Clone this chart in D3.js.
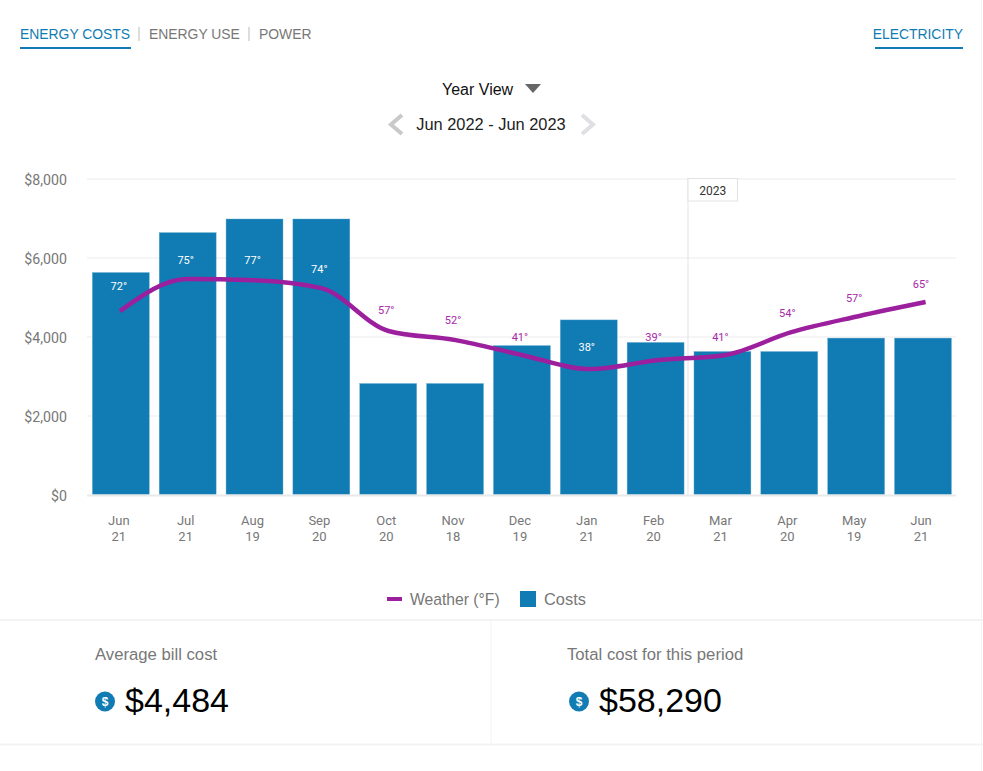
<!DOCTYPE html>
<html>
<head>
<meta charset="utf-8">
<script src="https://cdnjs.cloudflare.com/ajax/libs/d3/7.8.5/d3.min.js"></script>
<style>
html,body{margin:0;padding:0;background:#fff;overflow:hidden}
svg{display:block}
text{font-family:"Liberation Sans",Arial,sans-serif}
.chart text{font-family:Roboto,sans-serif}
</style>
</head>
<body>
<div id="root"></div>
<script>
const months = ["Jun","Jul","Aug","Sep","Oct","Nov","Dec","Jan","Feb","Mar","Apr","May","Jun"];
const days = ["21","21","19","20","20","18","19","21","20","21","20","19","21"];
const costs = [5620,6630,6975,6975,2810,2810,3770,4420,3850,3620,3620,3960,3960];
const temps = [72,75,77,74,57,52,41,38,39,41,54,57,65];
const weatherCurve = [63.4,77.5,77,73.5,54.7,50.7,44.1,38,41.9,44.1,54.2,61.2,67.4];
const weatherLabelLevels = [65.6,77,77,73.1,55.1,50.7,43.3,38.9,43.3,43.3,53.8,60.4,66.5];
const yTicks = [0,2000,4000,6000,8000];
const tabs = ["ENERGY COSTS","ENERGY USE","POWER"];
const summaryLabels = ["Average bill cost","Total cost for this period"];
const summaryValues = ["$4,484","$58,290"];
const legendLabels = ["Weather (°F)","Costs"];

const BLUE="#117cb3", PURPLE="#9c1f9e", GREY="#777", W=983, H=771;
const svg=d3.select("#root").append("svg").attr("width",W).attr("height",H);

// header
const tabX=[20,149,259];
svg.selectAll(".tab").data(tabs).join("text").attr("class","tab")
  .attr("x",(d,i)=>tabX[i]).attr("y",39).attr("font-size",13.9)
  .attr("fill",(d,i)=>i===0?BLUE:GREY).text(d=>d);
[139,249].forEach(x=>svg.append("line").attr("x1",x).attr("x2",x).attr("y1",27).attr("y2",41).attr("stroke","#bbb"));
svg.append("rect").attr("x",20).attr("y",47).attr("width",111).attr("height",2).attr("fill",BLUE);
svg.append("text").attr("x",963).attr("y",39).attr("text-anchor","end").attr("font-size",13.9).attr("fill",BLUE).text("ELECTRICITY");
svg.append("rect").attr("x",875).attr("y",47).attr("width",88).attr("height",2).attr("fill",BLUE);
svg.append("text").attr("x",442).attr("y",95).attr("font-size",16).attr("fill","#111").text("Year View");
svg.append("path").attr("d","M525,84L541,84L533,93Z").attr("fill","#666");
svg.append("text").attr("x",491).attr("y",130).attr("text-anchor","middle").attr("font-size",16.4).attr("fill","#222").text("Jun 2022 - Jun 2023");
svg.append("path").attr("d","M402,115L391,124.5L402,134").attr("fill","none").attr("stroke","#c9c9c9").attr("stroke-width",4);
svg.append("path").attr("d","M582,115L593,124.5L582,134").attr("fill","none").attr("stroke","#e0dfe3").attr("stroke-width",4);

// chart
const g=svg.append("g").attr("class","chart");
const idx=d3.range(months.length);
const x=d3.scaleBand().domain(idx).range([87.4,956.4]).paddingInner(0.148).paddingOuter(0.074);
const y=d3.scaleLinear().domain([0,8000]).range([494.5,178.5]);
const y2=d3.scaleLinear().domain([-17,121.6]).range([494.5,178.5]);
const xLine=d3.scalePoint().domain(idx).range([120,925.6]);
const labelX=i=>x(i)+x.bandwidth()/2-2;

const yAxis=d3.axisLeft(y).tickValues(yTicks).tickFormat(d=>"$"+d3.format(",")(d)).tickSize(0).tickPadding(0);
const ya=g.append("g").attr("transform","translate(67,1)").call(yAxis);
ya.select(".domain").remove();
ya.selectAll("text").attr("font-size",14.2).attr("fill",GREY).attr("font-family","Roboto,sans-serif");
const grid=d3.axisLeft(y).tickValues(yTicks.slice(1)).tickSize(-869).tickFormat("");
const ga=g.append("g").attr("transform","translate(87,0)").call(grid);
ga.select(".domain").remove();
ga.selectAll("line").attr("stroke","#ebebeb");

const sep=x(9)-x.step()*0.074-1;
g.append("line").attr("x1",sep).attr("x2",sep).attr("y1",y(8000)).attr("y2",y(0)).attr("stroke","#e3e1e5");
g.append("rect").attr("x",sep).attr("y",y(8000)).attr("width",49.5).attr("height",22.5).attr("fill","#fff").attr("stroke","#e3e1e5");
g.append("text").attr("x",sep+24.75).attr("y",195).attr("text-anchor","middle").attr("font-size",12).attr("fill","#333").text("2023");

g.selectAll(".bar").data(costs).join("rect").attr("class","bar")
  .attr("x",(d,i)=>x(i)).attr("width",x.bandwidth())
  .attr("y",d=>y(d)).attr("height",d=>y(0)-y(d))
  .attr("fill",BLUE).attr("stroke","#6aaed2").attr("stroke-width",0.4);
g.append("line").attr("x1",87).attr("x2",956).attr("y1",495.5).attr("y2",495.5).attr("stroke","#e9e9e9").attr("stroke-width",2);

const line=d3.line().x((d,i)=>xLine(i)).y(d=>y2(d)).curve(d3.curveMonotoneX);
g.append("path").attr("d",line(weatherCurve)).attr("fill","none").attr("stroke",PURPLE).attr("stroke-width",4.5).attr("stroke-linejoin","round");

const labelY=i=>y2(weatherLabelLevels[i])-16;
g.selectAll(".temp").data(temps).join("text").attr("class","temp")
  .attr("x",(d,i)=>labelX(i)).attr("y",(d,i)=>labelY(i))
  .attr("text-anchor","middle").attr("font-size",11)
  .attr("fill",(d,i)=>labelY(i)-8>y(costs[i])?"#fff":"#a828a8")
  .text(d=>d+"°");

const xa=g.selectAll(".xlab").data(idx).join("text").attr("class","xlab")
  .attr("text-anchor","middle").attr("font-size",13).attr("fill",GREY);
xa.append("tspan").attr("x",i=>labelX(i)).attr("y",525).text(i=>months[i]);
xa.append("tspan").attr("x",i=>labelX(i)).attr("y",541).text(i=>days[i]);

// legend
svg.append("line").attr("x1",387).attr("x2",402).attr("y1",599).attr("y2",599).attr("stroke",PURPLE).attr("stroke-width",4);
svg.append("text").attr("x",410).attr("y",605).attr("font-size",15.7).attr("fill",GREY).text(legendLabels[0]);
svg.append("rect").attr("x",520).attr("y",591).attr("width",16).attr("height",16).attr("fill",BLUE);
svg.append("text").attr("x",544).attr("y",605).attr("font-size",16.4).attr("fill",GREY).text(legendLabels[1]);

// summary
const border="#f3f3f3";
svg.append("line").attr("x1",0).attr("x2",W).attr("y1",620).attr("y2",620).attr("stroke",border).attr("stroke-width",2);
svg.append("line").attr("x1",0).attr("x2",W).attr("y1",744.5).attr("y2",744.5).attr("stroke",border).attr("stroke-width",2);
svg.append("line").attr("x1",491).attr("x2",491).attr("y1",620).attr("y2",744).attr("stroke",border);
svg.append("line").attr("x1",981.5).attr("x2",981.5).attr("y1",0).attr("y2",H).attr("stroke","#f4f4f4");
const sx=[95,567], ix=[105,579], vx=[125,599];
summaryLabels.forEach((t,i)=>{
  svg.append("text").attr("x",sx[i]).attr("y",659.5).attr("font-size",16.7).attr("fill",GREY).text(t);
  svg.append("circle").attr("cx",ix[i]).attr("cy",701.5).attr("r",10).attr("fill",BLUE);
  svg.append("text").attr("x",ix[i]).attr("y",706).attr("text-anchor","middle").attr("font-size",12).attr("font-weight","bold").attr("fill","#fff").text("$");
  svg.append("text").attr("x",vx[i]).attr("y",712).attr("font-size",34).attr("fill","#000").text(summaryValues[i]);
});
</script>
</body>
</html>
